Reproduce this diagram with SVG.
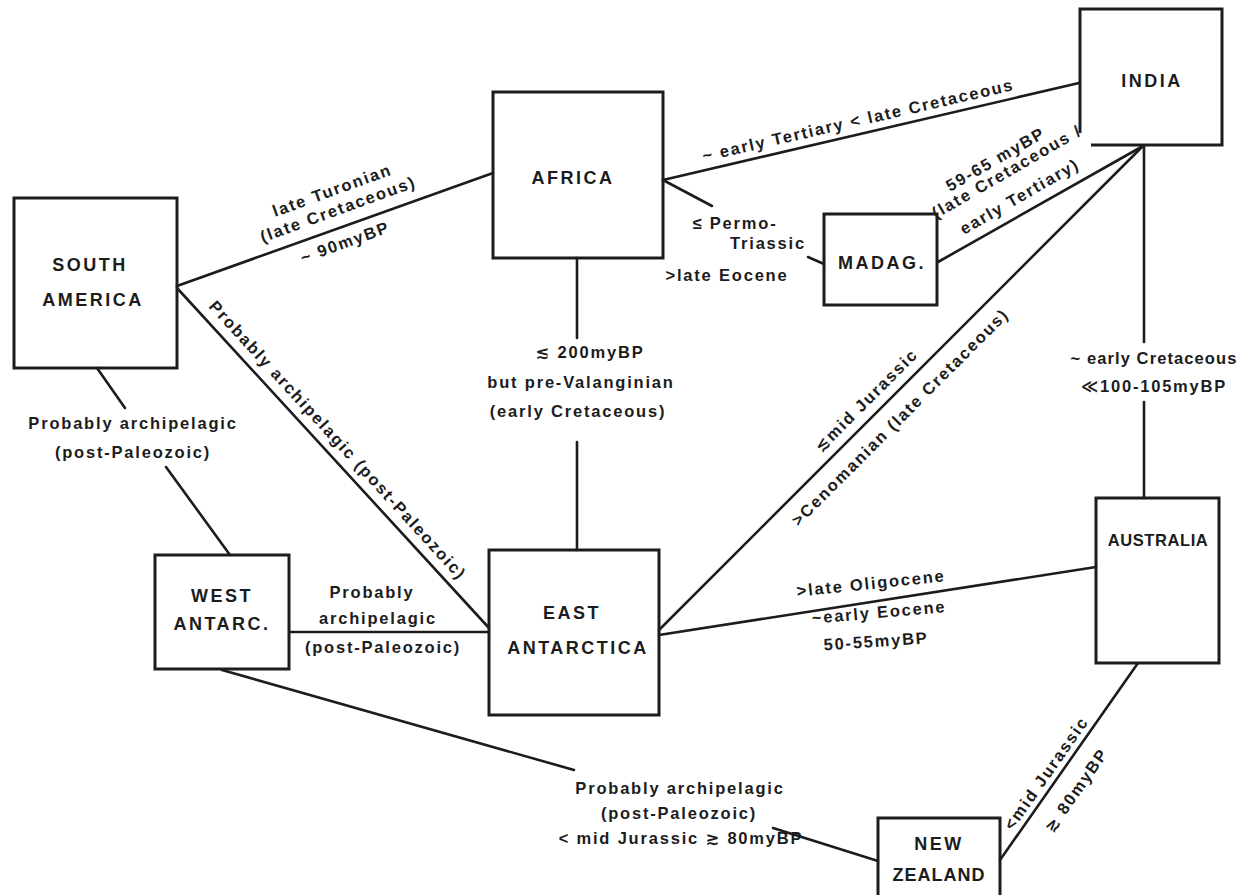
<svg xmlns="http://www.w3.org/2000/svg" width="1239" height="895" viewBox="0 0 1239 895">
<style>
.box{fill:none;stroke:#1c1c1c;stroke-width:3}
.ln{fill:none;stroke:#1c1c1c;stroke-width:2.6;stroke-linecap:round}
.nl{font-family:"Liberation Sans","DejaVu Sans",Arial,sans-serif;font-weight:bold;font-size:18px;letter-spacing:2.5px;fill:#1c1c1c;text-anchor:middle}
.lb{font-family:"Liberation Sans","DejaVu Sans",Arial,sans-serif;font-weight:bold;font-size:16.5px;letter-spacing:1.8px;fill:#1c1c1c;text-anchor:middle}
.st{text-anchor:start}
</style>
<rect width="1239" height="895" fill="#ffffff"/>
<g id="connectors">
<line class="ln" x1="177" y1="286" x2="493" y2="173"/>
<line class="ln" x1="177" y1="288" x2="489" y2="628"/>
<line class="ln" x1="97" y1="368" x2="125" y2="408"/>
<line class="ln" x1="166" y1="467" x2="230" y2="555"/>
<line class="ln" x1="289" y1="632" x2="489" y2="632"/>
<line class="ln" x1="222" y1="670" x2="574" y2="770"/>
<line class="ln" x1="773" y1="828" x2="878" y2="861"/>
<line class="ln" x1="577" y1="258" x2="577" y2="338"/>
<line class="ln" x1="577" y1="442" x2="577" y2="550"/>
<line class="ln" x1="663" y1="180" x2="1079" y2="83"/>
<line class="ln" x1="663" y1="180" x2="712" y2="206"/>
<line class="ln" x1="808" y1="257" x2="824" y2="264"/>
<line class="ln" x1="938" y1="262" x2="1143" y2="146"/>
<line class="ln" x1="659" y1="630" x2="1143" y2="146"/>
<line class="ln" x1="1144" y1="146" x2="1144" y2="342"/>
<line class="ln" x1="1144" y1="402" x2="1144" y2="498"/>
<line class="ln" x1="659" y1="635" x2="1096" y2="567"/>
<line class="ln" x1="1138" y1="663" x2="1000" y2="860"/>
</g>
<g id="edge-labels">
<text class="lb" transform="translate(332,190) rotate(-20)" dy=".36em">late Turonian</text>
<text class="lb" transform="translate(338,209) rotate(-20)" dy=".36em">(late Cretaceous)</text>
<text class="lb" transform="translate(345,242) rotate(-20)" dy=".36em">~ 90myBP</text>
<text class="lb" transform="translate(858,120) rotate(-13)" dy=".36em">~ early Tertiary  &lt; late Cretaceous</text>
<text class="lb" x="735" y="229">≤ Permo-</text>
<text class="lb" x="768" y="249">Triassic</text>
<text class="lb" x="727" y="281">&gt;late Eocene</text>
<text class="lb st" transform="translate(950,192) rotate(-30)">59-65 myBP</text>
<text class="lb st" transform="translate(936,219) rotate(-30)">(late Cretaceous /</text>
<text class="lb st" transform="translate(964,235) rotate(-30)">early Tertiary)</text>
<text class="lb" transform="translate(338,440) rotate(47.5)" dy=".36em">Probably archipelagic (post-Paleozoic)</text>
<text class="lb" x="133" y="429">Probably archipelagic</text>
<text class="lb" x="133" y="458">(post-Paleozoic)</text>
<text class="lb" x="372" y="598">Probably</text>
<text class="lb" x="378" y="624">archipelagic</text>
<text class="lb" x="383" y="653">(post-Paleozoic)</text>
<text class="lb" x="590" y="358">≲ 200myBP</text>
<text class="lb" x="581" y="388">but pre-Valanginian</text>
<text class="lb" x="578" y="417">(early Cretaceous)</text>
<text class="lb" transform="translate(866,400) rotate(-45)" dy=".36em">≲mid Jurassic</text>
<text class="lb" transform="translate(900,417) rotate(-45)" dy=".36em">&gt;Cenomanian (late Cretaceous)</text>
<text class="lb" x="1154" y="364" style="letter-spacing:1.1px">~ early Cretaceous</text>
<text class="lb" x="1154" y="392">≪100-105myBP</text>
<text class="lb" transform="translate(871,583) rotate(-6)" dy=".36em">&gt;late Oligocene</text>
<text class="lb" transform="translate(879,612) rotate(-5)" dy=".36em">~early Eocene</text>
<text class="lb" transform="translate(876,641) rotate(-4)" dy=".36em">50-55myBP</text>
<text class="lb" transform="translate(1046,773) rotate(-55)" dy=".36em">&lt;mid Jurassic</text>
<text class="lb" transform="translate(1076,790) rotate(-55)" dy=".36em">≳ 80myBP</text>
<text class="lb" x="680" y="794">Probably archipelagic</text>
<text class="lb" x="679" y="819">(post-Paleozoic)</text>
<text class="lb" x="681" y="844">&lt; mid Jurassic ≳ 80myBP</text>
</g>
<g id="south-america">
<rect class="box" x="14" y="198" width="163" height="170"/>
<text class="nl" x="90" y="271">SOUTH</text>
<text class="nl" x="93" y="306">AMERICA</text>
</g>
<g id="africa">
<rect class="box" x="493" y="92" width="170" height="166"/>
<text class="nl" x="573" y="184">AFRICA</text>
</g>
<g id="india">
<path class="box" d="M1080,133 V9 H1222 V145 H1091"/>
<text class="nl" x="1152" y="87">INDIA</text>
</g>
<g id="madagascar">
<rect class="box" x="824" y="214" width="113" height="91"/>
<text class="nl" x="882" y="269">MADAG.</text>
</g>
<g id="east-antarctica">
<rect class="box" x="489" y="550" width="170" height="165"/>
<text class="nl" x="572" y="619">EAST</text>
<text class="nl" x="578" y="654">ANTARCTICA</text>
</g>
<g id="west-antarctica">
<rect class="box" x="155" y="555" width="134" height="114"/>
<text class="nl" x="222" y="602">WEST</text>
<text class="nl" x="222" y="630">ANTARC.</text>
</g>
<g id="australia">
<rect class="box" x="1096" y="498" width="123" height="165"/>
<text class="nl" x="1158" y="546" style="font-size:16.5px;letter-spacing:0.6px">AUSTRALIA</text>
</g>
<g id="new-zealand">
<rect class="box" x="878" y="818" width="122" height="90"/>
<text class="nl" x="939" y="850">NEW</text>
<text class="nl" x="939" y="881" style="letter-spacing:1px">ZEALAND</text>
</g>
</svg>
